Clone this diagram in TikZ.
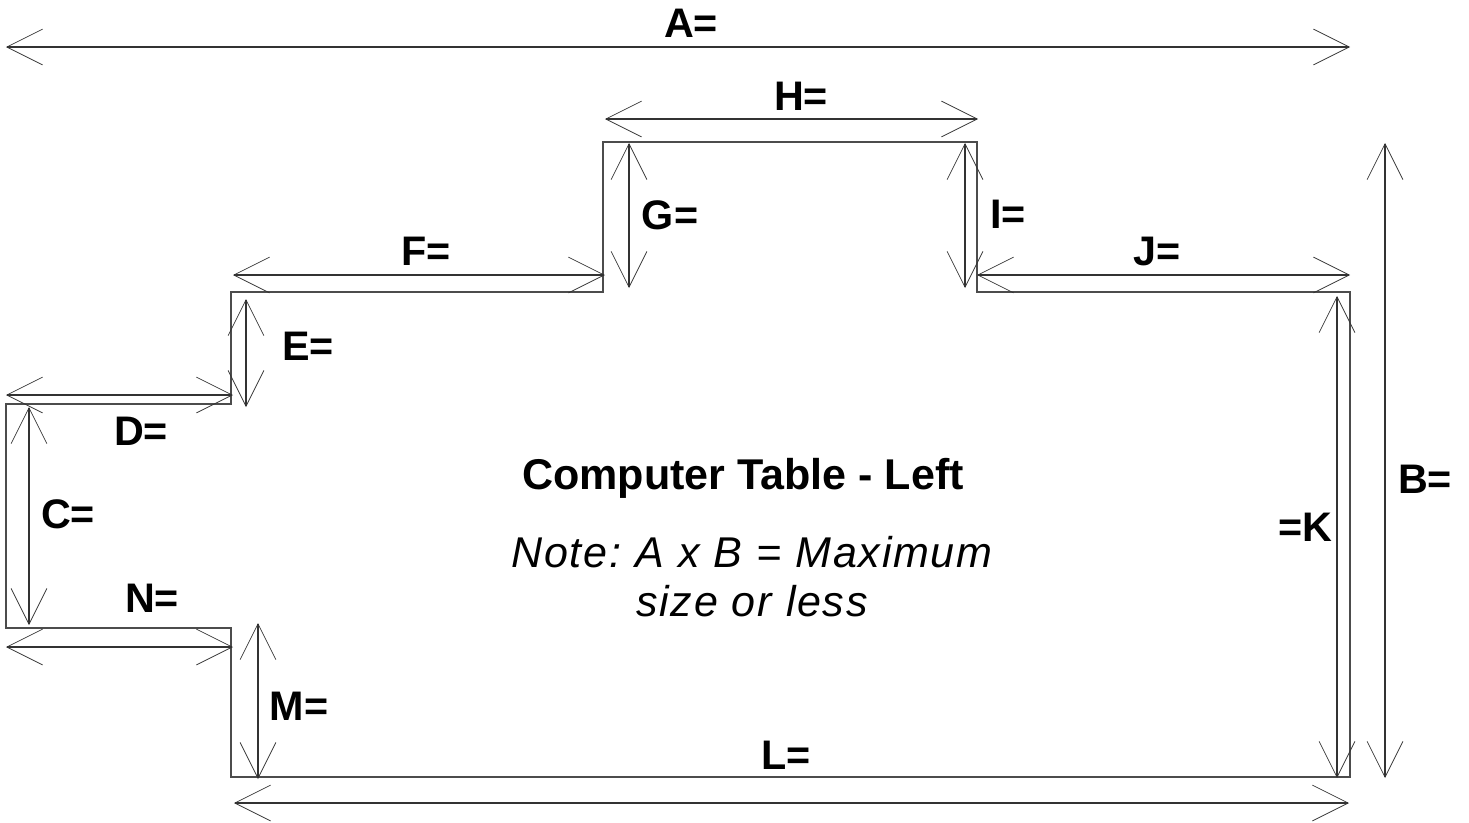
\documentclass[tikz,border=0pt]{standalone}
\usepackage{fontspec}
\setmainfont{Liberation Sans}
\usetikzlibrary{arrows.meta}
\newcommand{\notefont}{\fontsize{24.5}{28}\selectfont\itshape\addfontfeatures{LetterSpace=4}\frenchspacing\setlength{\spaceskip}{8pt}}
\tikzstyle{outline}=[line width=0.75pt, draw=black!70, line join=miter]
\tikzstyle{dim}=[line width=0.6pt, draw=black!80, {Straight Barb[length=20.4pt, width=20.4pt, line width=0.4pt]}-{Straight Barb[length=20.4pt, width=20.4pt, line width=0.4pt]}]
\tikzstyle{lab}=[font=\fontsize{23.5}{26}\selectfont\bfseries, inner sep=0pt]
\tikzstyle{heading}=[font=\fontsize{24.5}{28}\selectfont\bfseries, inner sep=0pt]
\tikzstyle{note}=[font=\notefont, inner sep=0pt]
\begin{document}
\begin{tikzpicture}[x=0.02cm, y=-0.02cm]
      \useasboundingbox (0, 0) rectangle (1469, 822);
      % table outline
      \coordinate(p0) at (6, 404);
      \coordinate(p1) at (231, 404);
      \coordinate(p2) at (231, 292);
      \coordinate(p3) at (603, 292);
      \coordinate(p4) at (603, 142);
      \coordinate(p5) at (977, 142);
      \coordinate(p6) at (977, 292);
      \coordinate(p7) at (1350, 292);
      \coordinate(p8) at (1350, 777);
      \coordinate(p9) at (231, 777);
      \coordinate(p10) at (231, 628);
      \coordinate(p11) at (6, 628);
      \draw[outline] (p0) -- (p1) -- (p2) -- (p3) -- (p4) -- (p5) -- (p6) -- (p7) -- (p8) -- (p9) -- (p10) -- (p11) -- cycle;
      % dimension ends
      \coordinate(a1) at (6, 47);
      \coordinate(a2) at (1350, 47);
      \coordinate(b1) at (1385, 143);
      \coordinate(b2) at (1385, 778);
      \coordinate(c1) at (29, 407);
      \coordinate(c2) at (29, 625);
      \coordinate(d1) at (6, 395);
      \coordinate(d2) at (233, 395);
      \coordinate(e1) at (246, 299);
      \coordinate(e2) at (246, 407);
      \coordinate(f1) at (233, 275);
      \coordinate(f2) at (605, 275);
      \coordinate(g1) at (629, 143);
      \coordinate(g2) at (629, 288);
      \coordinate(h1) at (605, 119);
      \coordinate(h2) at (978, 119);
      \coordinate(i1) at (965, 143);
      \coordinate(i2) at (965, 288);
      \coordinate(j1) at (977, 275);
      \coordinate(j2) at (1350, 275);
      \coordinate(k1) at (1337, 296);
      \coordinate(k2) at (1337, 778);
      \coordinate(l1) at (234, 803);
      \coordinate(l2) at (1349, 803);
      \coordinate(m1) at (258, 623);
      \coordinate(m2) at (258, 779);
      \coordinate(n1) at (6, 647);
      \coordinate(n2) at (233, 647);
      \draw[dim] (a1) to (a2);
      \draw[dim] (b1) to (b2);
      \draw[dim] (c1) to (c2);
      \draw[dim] (d1) to (d2);
      \draw[dim] (e1) to (e2);
      \draw[dim] (f1) to (f2);
      \draw[dim] (g1) to (g2);
      \draw[dim] (h1) to (h2);
      \draw[dim] (i1) to (i2);
      \draw[dim] (j1) to (j2);
      \draw[dim] (k1) to (k2);
      \draw[dim] (l1) to (l2);
      \draw[dim] (m1) to (m2);
      \draw[dim] (n1) to (n2);
      % labels
      \node(labA) [lab] at (691, 23){A=};
      \node(labB) [lab] at (1425, 479){B=};
      \node(labC) [lab] at (68, 514){C=};
      \node(labD) [lab] at (141, 431){D=};
      \node(labE) [lab] at (308, 346){E=};
      \node(labF) [lab] at (426, 251){F=};
      \node(labG) [lab] at (670, 215){G=};
      \node(labH) [lab] at (801, 96){H=};
      \node(labI) [lab] at (1008, 214){I=};
      \node(labJ) [lab] at (1157, 251){J=};
      \node(labK) [lab] at (1305, 527){=K};
      \node(labL) [lab] at (786, 755){L=};
      \node(labM) [lab] at (299, 706){M=};
      \node(labN) [lab] at (152, 598){N=};
      \node(title) [heading] at (743, 478){Computer Table - Left};
      \node(note1) [note] at (752, 552){Note: A x B = Maximum};
      \node(note2) [note] at (752, 601){size or less};
\end{tikzpicture}
\end{document}
